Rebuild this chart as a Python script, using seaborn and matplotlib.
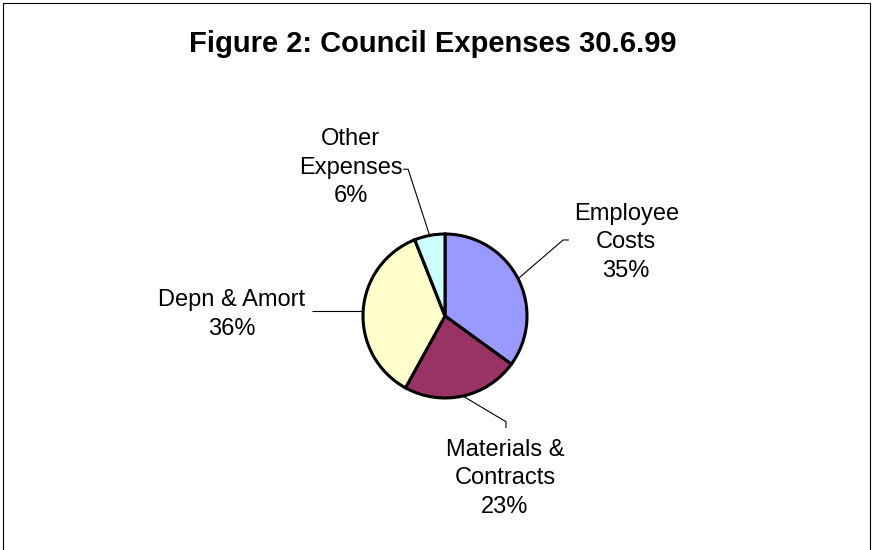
import matplotlib
matplotlib.use("Agg")
import matplotlib.pyplot as plt
import seaborn as sns
import numpy as np
from matplotlib.patches import Rectangle

# ---- data ----
categories = ["Employee\nCosts", "Materials &\nContracts", "Depn & Amort", "Other\nExpenses"]
values = [35, 23, 36, 6]
colors = ["#9999FF", "#993366", "#FFFFCC", "#CCFFFF"]
title = "Figure 2: Council Expenses 30.6.99"

sns.set_theme(style="white")
plt.rcParams['font.family'] = ['Liberation Sans', 'DejaVu Sans']

W, H = 873, 550
fig = plt.figure(figsize=(W / 100, H / 100), dpi=100)
fig.patch.set_facecolor("white")

# pie geometry (pixels)
cx, cy, r = 445, 316, 82
ax = fig.add_axes([(cx - r) / W, (H - cy - r) / H, 2 * r / W, 2 * r / H])
wedges, _ = ax.pie(values, colors=colors, startangle=90, counterclock=False,
                   radius=1, wedgeprops=dict(edgecolor="black", linewidth=2.2))
ax.set_xlim(-1, 1)
ax.set_ylim(-1, 1)
ax.set_aspect("equal")
ax.axis("off")

# label layout (data units, pie radius = 1)
text_pos = [(2.21, 0.90), (0.73, -1.98), (-2.60, 0.02), (-1.15, 1.81)]
elbows = [((1.44, 0.927), (1.51, 0.927)),
          ((0.744, -1.29), (0.744, -1.366)),
          (None, (-1.62, None)),
          ((-0.45, 1.79), (-0.51, 1.79))]

for w, cat, v, tp, (elb, end) in zip(wedges, categories, values, text_pos, elbows):
    mid = np.deg2rad((w.theta1 + w.theta2) / 2)
    sx, sy = np.cos(mid), np.sin(mid)
    xs, ys = [sx], [sy]
    if elb is not None:
        xs.append(elb[0]); ys.append(elb[1])
        xs.append(end[0]); ys.append(end[1])
    else:
        xs.append(end[0]); ys.append(sy)
    ax.plot(xs, ys, color="black", lw=0.8, clip_on=False, solid_capstyle="butt")
    ax.text(tp[0], tp[1], f"{cat}\n{v}%", ha="center", va="center",
            fontsize=17, color="black", linespacing=1.39, clip_on=False)

fig.text(433 / W, 1 - 52 / H, title, ha="center", va="baseline",
         fontsize=21, fontweight="bold", color="black")

fig.add_artist(Rectangle((3 / W, -0.1), 867 / W, (H - 3) / H + 0.1,
                         transform=fig.transFigure, fill=False,
                         edgecolor="black", lw=0.8))

fig.savefig("out.png", dpi=100, facecolor="white")
